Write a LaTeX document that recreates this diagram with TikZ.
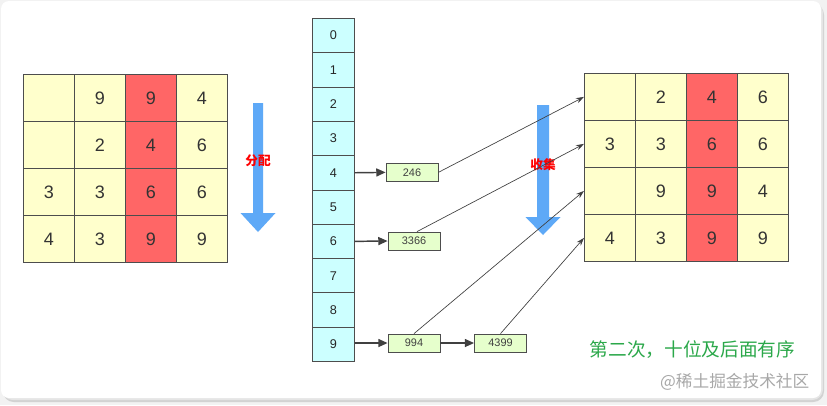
\documentclass[tikz,border=0pt]{standalone}
\usepackage{fontspec}
\setmainfont{Liberation Sans}
\newfontfamily\cjk{Noto Sans CJK SC}
\usetikzlibrary{arrows.meta}
\definecolor{cellY}{HTML}{FFFFCC}
\definecolor{cellR}{HTML}{FF6666}
\definecolor{cellC}{HTML}{CCFFFF}
\definecolor{boxG}{HTML}{E6FFCC}
\definecolor{edgeD}{HTML}{4D4D4D}
\definecolor{blueA}{HTML}{5EA9F7}
\definecolor{greenT}{HTML}{2BA84A}
\definecolor{grayW}{HTML}{A8A8A8}
\tikzset{
  cellbox/.style={draw=edgeD, line width=0.6pt, fill=cellY, minimum width=38.25pt, minimum height=35.25pt, inner sep=0pt, font=\fontsize{13.5}{14}\selectfont, text=black!80, anchor=north west},
  redcell/.style={cellbox, fill=cellR},
  bucket/.style={draw=edgeD, line width=0.6pt, fill=cellC, minimum width=31.5pt, minimum height=25.73pt, inner sep=0pt, font=\fontsize{9.5}{10}\selectfont, text=black!85, anchor=north west},
  itembox/.style={draw=edgeD, line width=0.6pt, fill=boxG, minimum width=39pt, minimum height=13.5pt, inner sep=0pt, font=\fontsize{8.2}{9}\selectfont, text=black!75},
  pusharrow/.style={-{Triangle[length=7pt,width=6pt]}, line width=1.1pt, draw=black!75},
  collectline/.style={-{Stealth[length=6pt,width=4pt]}, line width=0.5pt, draw=black!75},
  redlabel/.style={font=\cjk\fontsize{9.5}{10}\selectfont\bfseries, text=red},
}
\begin{document}
\begin{tikzpicture}[x=0.75pt,y=-0.75pt]
\useasboundingbox (0,0) rectangle (827,405);
% card background
\fill[gray!10] (0,0) rectangle (827,405);
\fill[gray!35] (3,4) [rounded corners=8pt] rectangle (824,402);
\fill[gray!20] (2,2) [rounded corners=8pt] rectangle (823,400);
\fill[white] (1,1) [rounded corners=6pt] rectangle (821,398);

% left grid
\foreach \r/\a/\b/\c/\d [count=\i from 0] in {1/{}/9/9/4, 2/{}/2/4/6, 3/3/3/6/6, 4/4/3/9/9}{
  \node[cellbox] (L\r1) at (23, 74+47*\i) {\a};
  \node[cellbox] (L\r2) at (74, 74+47*\i) {\b};
  \node[redcell] (L\r3) at (125, 74+47*\i) {\c};
  \node[cellbox] (L\r4) at (176, 74+47*\i) {\d};
}
% right grid
\foreach \r/\a/\b/\c/\d [count=\i from 0] in {1/{}/2/4/6, 2/3/3/6/6, 3/{}/9/9/4, 4/4/3/9/9}{
  \node[cellbox] (R\r1) at (584, 73+47*\i) {\a};
  \node[cellbox] (R\r2) at (635, 73+47*\i) {\b};
  \node[redcell] (R\r3) at (686, 73+47*\i) {\c};
  \node[cellbox] (R\r4) at (737, 73+47*\i) {\d};
}

% buckets
\foreach \k in {0,...,9}{
  \node[bucket] (B\k) at (312, 18+34.3*\k) {\k};
}

% item boxes
\node[itembox] (n246) at (412, 172.35) {246};
\node[itembox] (n3366) at (414, 241) {3366};
\node[itembox] (n994) at (414, 343) {994};
\node[itembox] (n4399) at (500.5, 343) {4399};

\draw[pusharrow] (B4.east) -- (n246.west);
\draw[pusharrow] (B6.east) -- (n3366.west);
\draw[pusharrow] (B9.east |- n994.west) -- (n994.west);
\draw[pusharrow] (n994.east) -- (n4399.west);

% blue arrows
\fill[blueA] (253,103) -- (263,103) -- (263,213) -- (275.5,213) -- (258,232) -- (240.5,213) -- (253,213) -- cycle;
\node[redlabel] (fenpei) at (258,161) {分配};

\fill[blueA] (537,105) -- (549,105) -- (549,217) -- (560.5,217) -- (543,235) -- (525.5,217) -- (537,217) -- cycle;
\node[redlabel] (shouji) at (543,165) {收集};

% collect lines
\draw[collectline] (n246.east) -- (R11.west);
\draw[collectline] ([xshift=2.25pt]n3366.north) -- (R21.west);
\draw[collectline] (n994.north) -- (R31.west);
\draw[collectline] (n4399.north) -- (R41.west);

% texts
\node[font=\cjk\fontsize{14}{16}\selectfont, text=greenT, anchor=west] (note) at (585,350) {第二次，十位及后面有序};
\node[font=\cjk\fontsize{12.5}{14}\selectfont, text=grayW, anchor=east] (wm) at (814,382) {@稀土掘金技术社区};
\end{tikzpicture}
\end{document}
